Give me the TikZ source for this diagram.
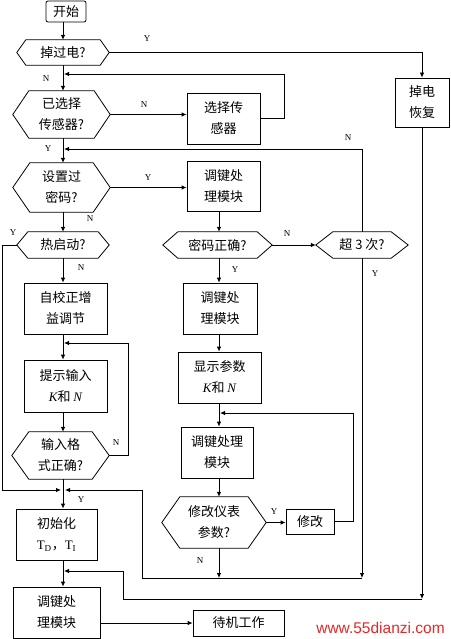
\documentclass[tikz,border=0pt]{standalone}
\usepackage{fontspec}
\setmainfont{Liberation Serif}
\newfontfamily\cjk{Noto Sans CJK SC}
\newfontfamily\wmfont{Liberation Sans}
\usetikzlibrary{arrows.meta,calc}
\definecolor{wmred}{RGB}{228,40,40}
\newcommand\hexout[2]{\draw[line] (#1.west) -- ([xshift=#2pt]#1.north west) -- ([xshift=-#2pt]#1.north east) -- (#1.east) -- ([xshift=-#2pt]#1.south east) -- ([xshift=#2pt]#1.south west) -- cycle;}
\tikzset{
  line/.style={line width=0.8pt},
  arr/.style={line, -{Latex[length=5pt,width=4.5pt]}},
  txt/.style={inner sep=0pt, align=center, font=\cjk\fontsize{13}{21}\selectfont},
  box/.style={txt, draw, line width=0.8pt},
  hexn/.style={txt},
  yn/.style={inner sep=0pt, font=\rmfamily\fontsize{9}{9}\selectfont},
}
\begin{document}
\begin{tikzpicture}[x=1pt,y=-1pt]
\fill[white] (0,0) rectangle (450,639);
\useasboundingbox (0,0) rectangle (450,639);
\coordinate (colL) at (63,0);
\coordinate (colR) at (219,0);
\coordinate (hb) at (0,578);
\coordinate (hb2) at (0,599);

% left column
\node[box, rounded corners=2pt, minimum width=40, minimum height=21] (start) at (66,11.5) {开始};
\node[hexn, minimum width=92, minimum height=25] (q1) at (63,52.5) {掉过电?};
\hexout{q1}{9}
\node[hexn, minimum width=97, minimum height=47] (q2) at (61.5,114.5) {已选择\\传感器?};
\hexout{q2}{16}
\node[hexn, minimum width=97, minimum height=49] (q3) at (61.5,187.5) {设置过\\密码?};
\hexout{q3}{17}
\node[hexn, minimum width=92, minimum height=26] (q4) at (63,245) {热启动?};
\hexout{q4}{11}
\node[box, minimum width=83, minimum height=51] (auto) at (65.5,308.5) {自校正增\\益调节};
\node[box, minimum width=83, minimum height=52] (prompt) at (65.5,386) {提示输入\\{\rmfamily\itshape K}和 {\rmfamily\itshape N}};
\node[hexn, minimum width=97, minimum height=47] (q6) at (60.5,455.5) {输入格\\式正确?};
\hexout{q6}{17}
\node[box, minimum width=81, minimum height=51] (init) at (56.5,534.5) {初始化\\{\rmfamily T$_{\mathrm{D}}$}，{\rmfamily T$_{\mathrm{I}}$}};
\node[box, minimum width=87, minimum height=51] (k4) at (56.5,612.5) {调键处\\理模块};
\node[box, minimum width=91, minimum height=26] (wait) at (238.5,623) {待机工作};

% right column
\node[box, minimum width=73, minimum height=51] (sel) at (223.5,118.5) {选择传\\感器};
\node[box, minimum width=73, minimum height=50] (k1) at (223.5,186) {调键处\\理模块};
\node[hexn, minimum width=109, minimum height=26] (pw) at (217.5,245) {密码正确?};
\hexout{pw}{15}
\node[hexn, minimum width=92, minimum height=26] (c3) at (362,245) {超 3 次?};
\hexout{c3}{17}
\node[box, minimum width=74, minimum height=51] (k2) at (220,308.5) {调键处\\理模块};
\node[box, minimum width=83, minimum height=51] (disp) at (219.5,377.5) {显示参数\\{\rmfamily\itshape K}和 {\rmfamily\itshape N}};
\node[box, minimum width=72, minimum height=51] (k3) at (217,452.5) {调键处理\\模块};
\node[hexn, minimum width=104, minimum height=51] (q5) at (214,522.5) {修改仪表\\参数?};
\hexout{q5}{18}
\node[box, minimum width=48, minimum height=25] (mod) at (310,521.5) {修改};
\node[box, minimum width=54, minimum height=49] (rec) at (422,102.5) {掉电\\恢复};

% merge points
\coordinate (m1) at (64,74);
\coordinate (m2) at (64,149);
\coordinate (m3) at (220,413);
\coordinate (m4) at (65,490);
\coordinate (m5) at (61,490);
\coordinate (m6) at (64,343);
\coordinate (m7) at (64,571);
\coordinate (j1) at (142,490);
\coordinate (j2) at (123,571);

% connectors
\draw[arr] (start.south -| colL) -- (q1.north -| colL);
\draw[arr] (q1.east) -| (rec.north);
\draw[arr] (q1.south -| colL) -- (q2.north -| colL);
\draw[arr] (q2.east) -- (q2.east -| sel.west);
\draw[arr] (sel.east) -- ++(24,0) |- (m1);
\draw[arr] (q2.south -| colL) -- (q3.north -| colL);
\draw[arr] (q3.east) -- (q3.east -| k1.west);
\draw[arr] (q3.south -| colL) -- (q4.north -| colL);
\draw[arr] (k1.south -| colR) -- (pw.north -| colR);
\draw[arr] (pw.east) -- (c3.west);
\draw[arr] (c3.north) |- (m2);
\draw[arr] (pw.south -| colR) -- (k2.north -| colR);
\draw[arr] (k2.south -| colR) -- (disp.north -| colR);
\draw[arr] (disp.south -| colR) -- (k3.north -| colR);
\draw[arr] (k3.south -| colR) -- (q5.north -| colR);
\draw[arr] (q5.east) -- (q5.east -| mod.west);
\draw[arr] (mod.east) -- ++(19,0) |- (m3);
\draw[arr] (q5.south -| colR) -- (colR |- hb);
\draw[arr] (c3.south) -- (c3.south |- hb);
\draw[arr] (c3.south |- hb) -| (j1) -- (m4);
\draw[arr] (q4.west) -- ++(-14,0) |- (m5);
\draw[arr] (q4.south -| colL) -- (auto.north -| colL);
\draw[arr] (auto.south -| colL) -- (prompt.north -| colL);
\draw[arr] (prompt.south -| colL) -- (q6.north -| colL);
\draw[arr] (q6.east) -- ++(19,0) |- (m6);
\draw[arr] (q6.south -| colL) -- (init.north -| colL);
\draw[arr] (init.south -| colL) -- (k4.north -| colL);
\draw[arr] (rec.south) -- (rec.south |- hb2);
\draw[arr] (rec.south |- hb2) -| (j2) -- (m7);
\draw[arr] (wait.west -| k4.east) -- (wait.west);

% Y / N labels
\node[yn] (l1) at (147,39) {Y};
\node[yn] (l2) at (46,79) {N};
\node[yn] (l3) at (144,105) {N};
\node[yn] (l4) at (48,149) {Y};
\node[yn] (l5) at (148,178) {Y};
\node[yn] (l6) at (90,219) {N};
\node[yn] (l7) at (348,138) {N};
\node[yn] (l8) at (287,234) {N};
\node[yn] (l9) at (13,233) {Y};
\node[yn] (l10) at (81,268) {N};
\node[yn] (l11) at (235,270) {Y};
\node[yn] (l12) at (375,274) {Y};
\node[yn] (l13) at (116,443) {N};
\node[yn] (l14) at (81,500) {Y};
\node[yn] (l15) at (274,512) {Y};
\node[yn] (l16) at (200,561) {N};

% watermark
\node[inner sep=0pt, text=wmred, font=\wmfont\fontsize{15.5}{16}\selectfont] (wmk) at (380.5,627.5) {www.55dianzi.com};
\end{tikzpicture}
\end{document}
